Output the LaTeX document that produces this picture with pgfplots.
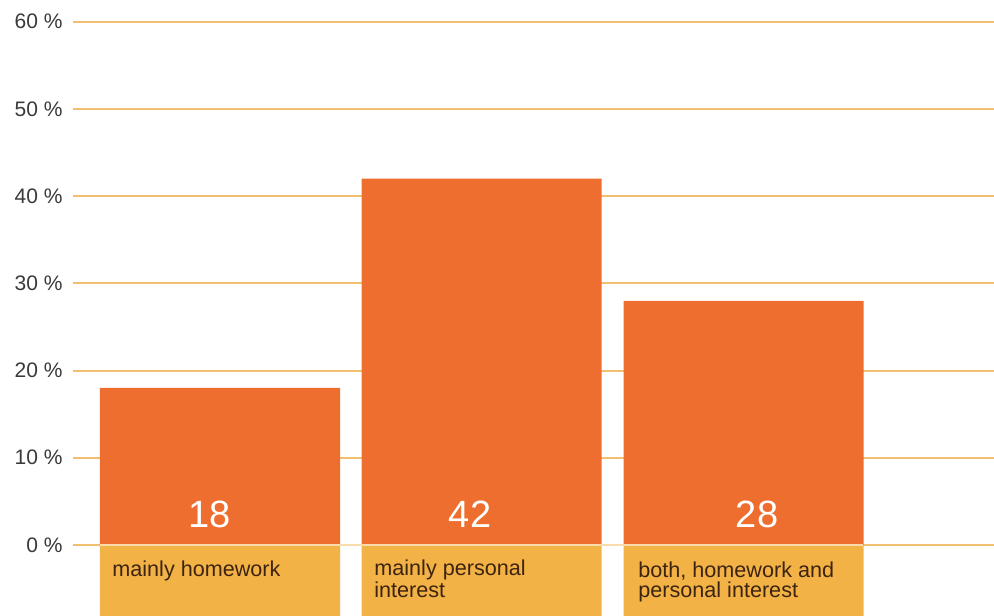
\documentclass[border=0pt]{standalone}
\usepackage{fontspec}
\setmainfont{Liberation Sans}
\usepackage{pgfplots}
\pgfplotsset{compat=1.18}
\definecolor{barc}{HTML}{EE6E2F}
\definecolor{boxc}{HTML}{F3B246}
\definecolor{gridc}{HTML}{F0C070}
\definecolor{tickc}{HTML}{3A3A3A}
\definecolor{catc}{HTML}{3C2410}
\begin{document}
\begin{tikzpicture}
\begin{axis}[
  scale only axis, width=460.5pt, height=307.5pt,
  xmin=73, xmax=994, ymin=-8.03, ymax=62.49,
  axis line style={draw=none},
  major tick length=0pt,
  xtick=\empty,
  ytick={0,10,20,30,40,50,60},
  yticklabels={0 \%,10 \%,20 \%,30 \%,40 \%,50 \%,60 \%},
  yticklabel style={font=\fontsize{10.5}{12}\selectfont, text=tickc, xshift=-1.7pt},
  ymajorgrids, major grid style={draw=gridc, line width=1pt},
  ybar, bar width=240, bar shift=0pt,
  clip=true,
]
\addplot[fill=barc, draw=none] coordinates {(220,18) (481.5,42) (743.5,28)};
\addplot[fill=boxc, draw=none] coordinates {(220,-10) (481.5,-10) (743.5,-10)};
\draw[draw=white!55!boxc, line width=0.8pt] (axis cs:100,0) -- (axis cs:863,0);
\node[text=white, font=\fontsize{19}{20}\selectfont] at (axis cs:210,3.55) {18};
\node[text=white, font=\fontsize{19}{20}\selectfont] at (axis cs:470,3.55) {42};
\node[text=white, font=\fontsize{19}{20}\selectfont] at (axis cs:757,3.55) {28};
\node[anchor=base west, align=left, inner sep=0pt, text=catc, font=\fontsize{10.8}{10}\selectfont] at (axis cs:112,-3.67) {mainly homework};
\node[anchor=base west, align=left, inner sep=0pt, text=catc, font=\fontsize{10.8}{10}\selectfont] at (axis cs:374,-6.08) {mainly personal\\interest};
\node[anchor=base west, align=left, inner sep=0pt, text=catc, font=\fontsize{10.8}{10}\selectfont] at (axis cs:638,-6.08) {both, homework and\\personal interest};
\end{axis}
\pgfresetboundingbox
\path[use as bounding box] (current axis.south west) ++(-36.5pt,0) rectangle (current axis.north east);
\end{tikzpicture}
\end{document}
